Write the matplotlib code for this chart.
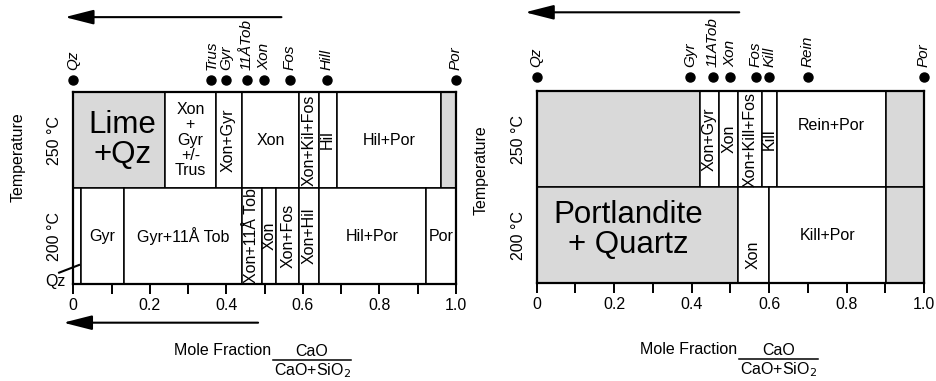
import matplotlib
matplotlib.use("Agg")
import matplotlib.pyplot as plt
import numpy as np

plt.rcParams["font.family"] = ["Liberation Sans", "DejaVu Sans"]

# Phase fields along the CaO/(CaO+SiO2) axis, one list per temperature row.
LEFT_250_EDGES = [0, 0.24, 0.372, 0.44, 0.59, 0.641, 0.689, 0.962, 1.0]
LEFT_250_LABELS = ["Lime\n+Qz", "Xon\n+\nGyr\n+/-\nTrus", "Xon+Gyr", "Xon",
                   "Xon+Kil+Fos", "Hil", "Hil+Por", ""]
LEFT_250_REACTANT = [True, False, False, False, False, False, False, True]

LEFT_200_EDGES = [0, 0.021, 0.132, 0.44, 0.492, 0.531, 0.59, 0.641, 0.921, 1.0]
LEFT_200_LABELS = ["", "Gyr", "Gyr+11Å Tob", "Xon+11Å Tob", "Xon", "Xon+Fos",
                   "Xon+Hil", "Hil+Por", "Por"]
LEFT_200_REACTANT = [False] * 9

RIGHT_250_EDGES = [0, 0.422, 0.471, 0.521, 0.581, 0.62, 0.902, 1.0]
RIGHT_250_LABELS = ["", "Xon+Gyr", "Xon", "Xon+Kill+Fos", "Kill", "Rein+Por", ""]
RIGHT_250_REACTANT = [True, False, False, False, False, False, True]

RIGHT_200_EDGES = [0, 0.52, 0.60, 0.902, 1.0]
RIGHT_200_LABELS = ["Portlandite\n+ Quartz", "Xon", "Kill+Por", ""]
RIGHT_200_REACTANT = [True, False, False, True]

# Ideal compositions of the phases, marked above each diagram.
LEFT_PHASES = ["Qz", "Trus", "Gyr", "11ÅTob", "Xon", "Fos", "Hill", "Por"]
LEFT_PHASE_X = [0.0, 0.361, 0.399, 0.453, 0.499, 0.566, 0.662, 1.0]
RIGHT_PHASES = ["Qz", "Gyr", "11ATob", "Xon", "Fos", "Kill", "Rein", "Por"]
RIGHT_PHASE_X = [0.0, 0.396, 0.454, 0.499, 0.566, 0.60, 0.70, 1.0]

TEMPS = ["200 °C", "250 °C"]
XTICKS = np.round(np.arange(0, 1.01, 0.1), 1)

GREY = "#d9d9d9"
FS = 11.5
BIG = 22.5

# labels that are written vertically inside narrow fields
VERTICAL = {"Xon+Gyr", "Xon+Kil+Fos", "Hil", "Xon+11Å Tob", "Xon+Fos",
            "Xon+Hil", "Xon+Kill+Fos", "Kill"}


def draw_row(ax, edges, labels, reactant, row, big=(), place=None):
    edges = np.asarray(edges)
    lefts = edges[:-1]
    widths = np.diff(edges)
    colors = [GREY if r else "white" for r in reactant]
    ax.bar(lefts, 1.0, width=widths, bottom=row, align="edge", color=colors,
           edgecolor="black", linewidth=1.1, zorder=1)
    place = place or {}
    for x0, w, lab in zip(lefts, widths, labels):
        if not lab:
            continue
        cx, cy = x0 + w / 2, row + 0.5
        if lab in place:
            cx, cy = place[lab]
        rot = 90 if (lab in VERTICAL or (lab == "Xon" and w < 0.1)) else 0
        size = BIG if lab in big else FS
        ls = 1.0 if lab in big else 1.02
        ax.text(cx, cy, lab, ha="center", va="center", rotation=rot,
                fontsize=size, linespacing=ls, zorder=3, clip_on=False)


def setup_axes(ax, label_y):
    ax.set_xlim(0, 1)
    ax.set_ylim(0, 2)
    ax.set_xticks(XTICKS)
    ax.set_xticklabels(["0", "", "0.2", "", "0.4", "", "0.6", "", "0.8", "", "1.0"])
    ax.tick_params(axis="x", direction="out", length=7, width=1.4, pad=3,
                   labelsize=FS)
    ax.set_yticks([0.5, 1.5])
    ax.set_yticklabels(TEMPS, rotation=90, va="center", fontsize=FS)
    ax.tick_params(axis="y", length=0, pad=8)
    ax.set_ylabel("Temperature", fontsize=FS)
    ax.yaxis.set_label_coords(-0.124, label_y)
    for sp in ax.spines.values():
        sp.set_linewidth(1.6)
        sp.set_zorder(4)


def phase_marks(ax, names, xs, ydot):
    ax.plot(xs, [ydot] * len(xs), "o", color="black", markersize=6.5,
            clip_on=False, zorder=5)
    for n, x in zip(names, xs):
        ax.text(x, ydot + 0.1, n, rotation=90, ha="center", va="bottom",
                fontsize=11, style="italic", clip_on=False)


def arrow(ax, x_from, x_to, y):
    ax.annotate("", xy=(x_to, y), xytext=(x_from, y), xycoords="data",
                annotation_clip=False,
                arrowprops=dict(arrowstyle="-|>,head_length=1.1,head_width=0.28",
                                mutation_scale=16, lw=1.5, color="black",
                                shrinkA=0, shrinkB=0))


def mole_fraction(ax):
    kw = dict(transform=ax.transAxes, fontsize=FS, clip_on=False)
    ax.text(0.517, -0.344, "Mole Fraction", ha="right", va="center", **kw)
    ax.plot([0.522, 0.726], [-0.396, -0.396], color="black", lw=1.1,
            transform=ax.transAxes, clip_on=False)
    ax.text(0.624, -0.35, "CaO", ha="center", va="center", **kw)
    ax.text(0.624, -0.45, "CaO+SiO$_2$", ha="center", va="center", **kw)


fig = plt.figure(figsize=(9.37, 3.81), dpi=100)
axl = fig.add_axes([0.0782, 0.2546, 0.4084, 0.5039])
axr = fig.add_axes([0.5728, 0.2572, 0.4133, 0.5039])

# left diagram
draw_row(axl, LEFT_250_EDGES, LEFT_250_LABELS, LEFT_250_REACTANT, 1,
         big=("Lime\n+Qz",), place={"Lime\n+Qz": (0.128, 1.5)})
draw_row(axl, LEFT_200_EDGES, LEFT_200_LABELS, LEFT_200_REACTANT, 0)
setup_axes(axl, 0.66)
phase_marks(axl, LEFT_PHASES, LEFT_PHASE_X, 2.125)
arrow(axl, 0.544, -0.022, 2.78)
arrow(axl, 0.483, -0.026, -0.403)
axl.plot([-0.037, 0.015], [0.118, 0.198], color="black", lw=1.5, clip_on=False)
axl.text(-0.048, 0.024, "Qz", ha="center", va="center", fontsize=FS, clip_on=False)
mole_fraction(axl)

# right diagram
draw_row(axr, RIGHT_250_EDGES, RIGHT_250_LABELS, RIGHT_250_REACTANT, 1,
         place={"Rein+Por": (0.761, 1.646)})
draw_row(axr, RIGHT_200_EDGES, RIGHT_200_LABELS, RIGHT_200_REACTANT, 0,
         big=("Portlandite\n+ Quartz",),
         place={"Portlandite\n+ Quartz": (0.236, 0.55), "Xon": (0.56, 0.29)})
setup_axes(axr, 0.59)
phase_marks(axr, RIGHT_PHASES, RIGHT_PHASE_X, 2.146)
arrow(axr, 0.523, -0.03, 2.82)
mole_fraction(axr)

fig.savefig("out.png", dpi=100)
